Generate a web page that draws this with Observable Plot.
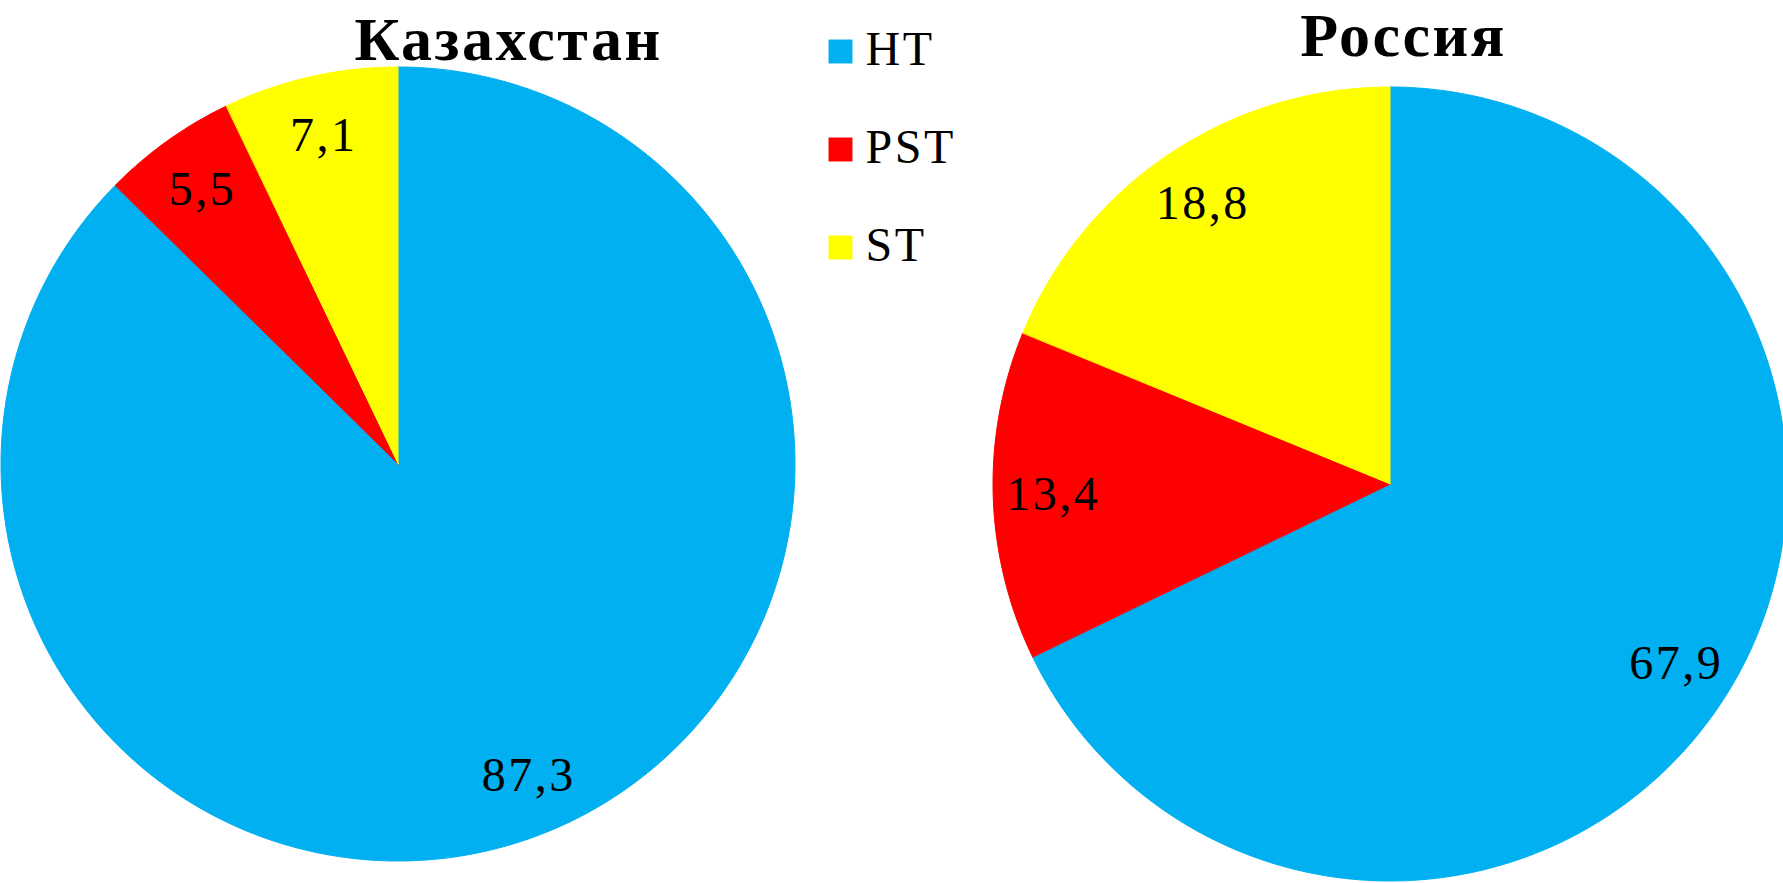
<!DOCTYPE html>
<html>
<head>
<meta charset="utf-8">
<script src="https://cdn.jsdelivr.net/npm/d3@7"></script>
<script src="https://cdn.jsdelivr.net/npm/@observablehq/plot@0.6"></script>
<style>
  html, body { margin: 0; padding: 0; background: #fff; }
  #chart svg { display: block; }
  #chart svg text { letter-spacing: 2.5px; }
</style>
</head>
<body>
<div id="chart"></div>
<script>
// ---- data ----
const countries = ["Казахстан", "Россия"];
const categories = ["HT", "PST", "ST"];
const kazakhstan = [87.3, 5.5, 7.1];
const russia = [67.9, 13.4, 18.8];
const colors = ["#00B0F0", "#FF0000", "#FFFF00"];

// ---- layout ----
const W = 1783, H = 883, R = 397;
const centers = [[398, 464], [1390, 484]];
const titlePos = [[508, 40], [1403, 36]];
const labelFrac = 0.85;
const legendX = 840, legendTextX = 865, legendY = [51, 149, 247];

const seriesByCountry = [kazakhstan, russia];
const fmt = v => v.toFixed(1).replace(".", ",");

const pie = d3.pie().sort(null).value(d => d.value);

const wedgePoints = [];
const labels = [];
const titles = [];
countries.forEach((country, ci) => {
  const [cx, cy] = centers[ci];
  const rows = categories.map((cat, k) => ({country, category: cat, value: seriesByCountry[ci][k], color: colors[k]}));
  const arcs = pie(rows);
  arcs.forEach(a => {
    const span = a.endAngle - a.startAngle;
    const n = Math.max(2, Math.ceil(span / (Math.PI / 180)));
    for (let i = 0; i <= n; i++) {
      const t = a.startAngle + span * i / n;
      wedgePoints.push({
        key: country + "-" + a.data.category,
        color: a.data.color,
        cx, cy,
        x: cx + R * Math.sin(t),
        y: cy - R * Math.cos(t)
      });
    }
    const mid = (a.startAngle + a.endAngle) / 2;
    labels.push({
      x: cx + labelFrac * R * Math.sin(mid),
      y: cy - labelFrac * R * Math.cos(mid),
      text: fmt(a.data.value)
    });
  });
  titles.push({x: titlePos[ci][0], y: titlePos[ci][1], text: country});
});

const legend = categories.map((c, k) => ({category: c, color: colors[k], y: legendY[k]}));

const plot = Plot.plot({
  width: W,
  height: H,
  margin: 0,
  x: {domain: [0, W], range: [0, W], axis: null},
  y: {domain: [0, H], range: [0, H], axis: null},
  style: {background: "#fff", fontFamily: "'Liberation Serif', serif", overflow: "visible"},
  marks: [
    Plot.area(wedgePoints, {
      x1: "x", y1: "y", x2: "cx", y2: "cy",
      z: "key", fill: d => d.color, stroke: d => d.color, strokeWidth: 1,
      curve: "linear"
    }),
    Plot.text(labels, {
      x: "x", y: "y", text: "text",
      fontSize: 48, fill: "#000", fontFamily: "'Liberation Serif', serif"
    }),
    Plot.text(titles, {
      x: "x", y: "y", text: "text",
      fontSize: 62, fontWeight: "bold", fill: "#000", fontFamily: "'Liberation Serif', serif"
    }),
    Plot.dot(legend, {
      x: () => legendX, y: "y", symbol: "square", r: 13.5,
      fill: d => d.color, stroke: null
    }),
    Plot.text(legend, {
      x: () => legendTextX, y: d => d.y - 2, text: "category",
      textAnchor: "start", fontSize: 48, fill: "#000", fontFamily: "'Liberation Serif', serif"
    })
  ]
});

document.getElementById("chart").appendChild(plot);
</script>
</body>
</html>
